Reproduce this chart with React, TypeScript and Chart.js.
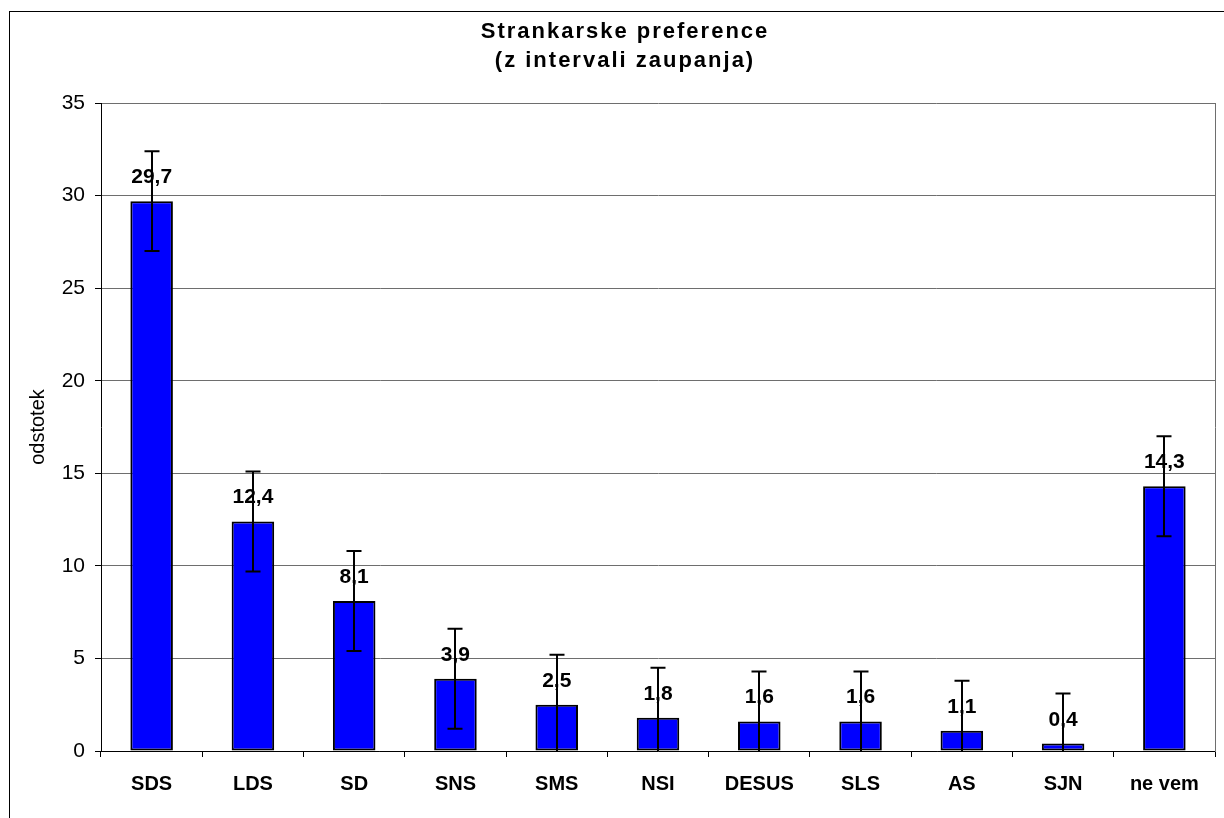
import React, { useEffect, useRef } from "react";
import { Chart, registerables } from "chart.js";

Chart.register(...registerables);

const categories = ["SDS", "LDS", "SD", "SNS", "SMS", "NSI", "DESUS", "SLS", "AS", "SJN", "ne vem"];
const values = [29.7, 12.4, 8.1, 3.9, 2.5, 1.8, 1.6, 1.6, 1.1, 0.4, 14.3];
const errors = [2.7, 2.7, 2.7, 2.7, 2.7, 2.7, 2.7, 2.7, 2.7, 2.7, 2.7];
const titleLines = ["Strankarske preference", "(z intervali zaupanja)"];
const yAxisTitle = "odstotek";
const yMin = 0;
const yMax = 35;
const yStep = 5;

const FONT = '"Liberation Sans", Arial, Helvetica, sans-serif';
const CANVAS_W = 1214;
const CANVAS_H = 806;
const GRID = "#6e6e6e";

const fmt = (v: number) => v.toFixed(1).replace(".", ",");

const titlePlugin = {
  id: "customTitle",
  afterDraw(chart: any) {
    const ctx = chart.ctx;
    ctx.save();
    ctx.font = `bold 22px ${FONT}`;
    ctx.letterSpacing = "2px";
    ctx.fillStyle = "#000";
    ctx.textAlign = "center";
    ctx.textBaseline = "alphabetic";
    const cx = 614 + 1;
    ctx.fillText(titleLines[0], cx, 26);
    ctx.fillText(titleLines[1], cx, 55);
    ctx.restore();
  },
};

const labelsAndErrorsPlugin = {
  id: "labelsErrors",
  afterDatasetsDraw(chart: any) {
    const ctx = chart.ctx;
    const meta = chart.getDatasetMeta(0);
    const y = chart.scales.y;
    ctx.save();
    // data labels
    ctx.font = `bold 21px ${FONT}`;
    ctx.fillStyle = "#000";
    ctx.textAlign = "center";
    ctx.textBaseline = "alphabetic";
    meta.data.forEach((bar: any, i: number) => {
      const top = y.getPixelForValue(values[i]);
      ctx.fillText(fmt(values[i]), bar.x, top - 18);
    });
    // error bars
    ctx.strokeStyle = "#000";
    ctx.lineWidth = 2;
    const cap = 7.5;
    meta.data.forEach((bar: any, i: number) => {
      const hi = values[i] + errors[i];
      const loRaw = values[i] - errors[i];
      const lo = Math.max(yMin, loRaw);
      const yHi = y.getPixelForValue(hi);
      const yLo = y.getPixelForValue(lo);
      const x = Math.round(bar.x);
      ctx.beginPath();
      ctx.moveTo(x, yHi);
      ctx.lineTo(x, yLo);
      ctx.moveTo(x - cap, yHi);
      ctx.lineTo(x + cap, yHi);
      if (loRaw > yMin) {
        ctx.moveTo(x - cap, yLo);
        ctx.lineTo(x + cap, yLo);
      }
      ctx.stroke();
    });
    ctx.restore();
  },
};

export default function App() {
  const ref = useRef<HTMLCanvasElement | null>(null);

  useEffect(() => {
    document.body.style.overflow = "hidden";
    const canvas = ref.current;
    if (!canvas) return;
    const chart = new Chart(canvas, {
      type: "bar",
      data: {
        labels: categories,
        datasets: [
          {
            label: "odstotek",
            data: values,
            backgroundColor: "#0000FF",
            borderColor: "#000000",
            borderWidth: 2,
            borderSkipped: false,
            barPercentage: 1,
            categoryPercentage: 0.42,
          },
        ],
      },
      options: {
        responsive: false,
        animation: false,
        devicePixelRatio: 1,
        layout: { padding: { top: 91, left: 0, right: 0, bottom: 0 } },
        plugins: {
          legend: { display: false },
          title: { display: false },
          tooltip: { enabled: false },
        },
        scales: {
          x: {
            grid: {
              offset: true,
              drawOnChartArea: false,
              drawTicks: true,
              tickLength: 6,
              tickColor: "#000",
            },
            border: { display: true, color: "#000", width: 1 },
            ticks: {
              autoSkip: false,
              maxRotation: 0,
              minRotation: 0,
              padding: 15,
              color: "#000",
              font: { family: FONT, size: 20, weight: "bold" },
            },
            afterFit(scale: any) {
              scale.height = 67;
            },
          },
          y: {
            min: yMin,
            max: yMax,
            ticks: {
              stepSize: yStep,
              padding: 10,
              color: "#000",
              font: { family: FONT, size: 21 },
              callback: (v: any) => String(v),
            },
            grid: {
              color: GRID,
              lineWidth: 1,
              tickLength: 6,
              tickColor: "#000",
            },
            border: { display: true, color: "#000", width: 1 },
            title: {
              display: true,
              text: yAxisTitle,
              color: "#000",
              font: { family: FONT, size: 20 },
              padding: { top: 16, bottom: 0 },
            },
            afterFit(scale: any) {
              scale.width = 91;
            },
          },
          y2: {
            type: "linear",
            position: "right",
            display: true,
            ticks: { display: false },
            grid: { display: false, drawOnChartArea: false, drawTicks: false },
            border: { display: true, color: GRID, width: 1 },
            afterFit(scale: any) {
              scale.width = 9;
            },
          },
        },
      },
      plugins: [labelsAndErrorsPlugin, titlePlugin],
    } as any);
    return () => chart.destroy();
  }, []);

  return (
    <div
      style={{
        position: "absolute",
        left: 9,
        top: 11,
        borderLeft: "1px solid #000",
        borderTop: "1px solid #000",
        width: CANVAS_W,
        height: CANVAS_H,
      }}
    >
      <canvas ref={ref} width={CANVAS_W} height={CANVAS_H} style={{ display: "block" }} />
    </div>
  );
}
